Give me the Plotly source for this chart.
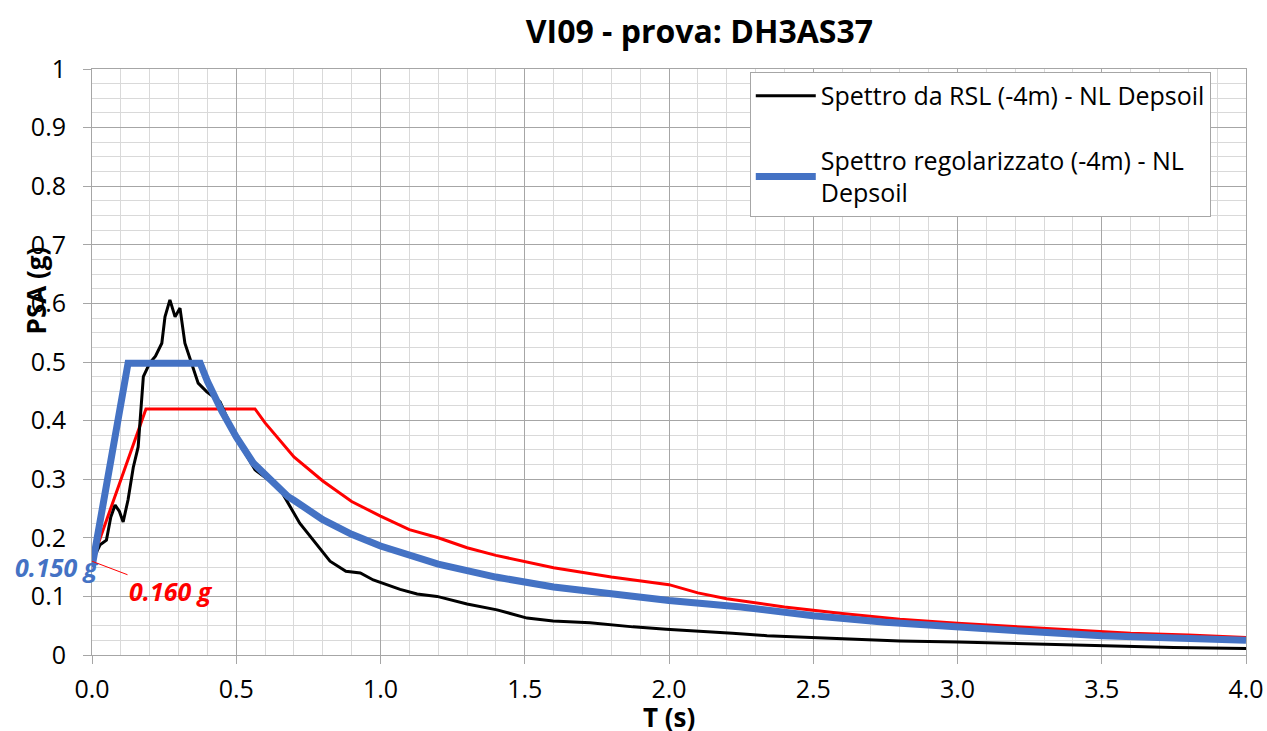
import plotly.graph_objects as go

# Spettro da RSL (-4m) - NL Depsoil
t_rsl = [0.0, 0.028, 0.05, 0.065, 0.08, 0.095, 0.108, 0.125, 0.143, 0.16, 0.178, 0.2,
         0.22, 0.242, 0.253, 0.27, 0.288, 0.305, 0.322, 0.346, 0.368, 0.398, 0.444, 0.5,
         0.565, 0.62, 0.66, 0.72, 0.76, 0.825, 0.88, 0.93, 0.975, 1.0, 1.068, 1.127,
         1.196, 1.3, 1.404, 1.508, 1.598, 1.726, 1.875, 1.99, 2.107, 2.22, 2.34, 2.454,
         2.57, 2.686, 2.8, 3.0, 3.25, 3.5, 3.75, 4.0]
psa_rsl = [0.16, 0.188, 0.196, 0.235, 0.256, 0.245, 0.227, 0.265, 0.32, 0.355, 0.475, 0.498,
           0.51, 0.532, 0.577, 0.606, 0.577, 0.592, 0.532, 0.498, 0.464, 0.449, 0.432, 0.37,
           0.316, 0.296, 0.276, 0.225, 0.2, 0.16, 0.143, 0.14, 0.128, 0.124, 0.112, 0.104,
           0.1, 0.087, 0.077, 0.063, 0.058, 0.055, 0.048, 0.044, 0.041, 0.037, 0.033, 0.031,
           0.029, 0.026, 0.024, 0.022, 0.019, 0.015, 0.013, 0.011]

# Spettro regolarizzato (-4m) - NL Depsoil
t_reg = [0.0, 0.125, 0.375, 0.4, 0.45, 0.5, 0.56, 0.6, 0.68, 0.7, 0.8, 0.9, 1.0, 1.2, 1.3,
         1.4, 1.6, 1.8, 2.0, 2.25, 2.5, 2.75, 3.0, 3.25, 3.5, 3.75, 4.0]
psa_reg = [0.15, 0.498, 0.498, 0.467, 0.416, 0.372, 0.327, 0.307, 0.27, 0.264, 0.231, 0.206,
           0.186, 0.155, 0.144, 0.133, 0.116, 0.103, 0.093, 0.082, 0.067, 0.056, 0.047,
           0.040, 0.033, 0.029, 0.025]

# spettro di norma (rosso)
t_ntc = [0.0, 0.187, 0.565, 0.6, 0.7, 0.8, 0.9, 1.0, 1.1, 1.2, 1.3, 1.4, 1.6, 1.8, 2.0,
         2.1, 2.2, 2.4, 2.6, 2.8, 3.0, 3.2, 3.4, 3.6, 3.8, 4.0]
psa_ntc = [0.16, 0.42, 0.42, 0.396, 0.338, 0.297, 0.262, 0.237, 0.214, 0.2, 0.183, 0.17,
           0.149, 0.133, 0.12, 0.106, 0.096, 0.082, 0.071, 0.061, 0.054, 0.048, 0.042,
           0.037, 0.034, 0.030]

BLUE = "#4472C4"
RED = "#FF0000"
FONT = "Open Sans"
MAJOR = "#a6a6a6"
MINOR = "#d9d9d9"

fig = go.Figure()
fig.add_trace(go.Scatter(
    x=t_ntc, y=psa_ntc, mode="lines", showlegend=False,
    line=dict(color=RED, width=3)
))
fig.add_trace(go.Scatter(
    x=t_rsl, y=psa_rsl, mode="lines", name="Spettro da RSL (-4m) - NL Depsoil",
    legendgroup="a", line=dict(color="black", width=3)
))
fig.add_trace(go.Scatter(
    x=t_reg, y=psa_reg, mode="lines", name="Spettro regolarizzato (-4m) - NL<br>Depsoil",
    legendgroup="b", line=dict(color=BLUE, width=7)
))

# etichette dei valori a T=0
fig.add_annotation(
    x=-0.0303, xref="paper", y=psa_reg[0], yref="y", xanchor="center", yanchor="middle",
    text="<b><i>0.150 g</i></b>", showarrow=False,
    font=dict(family=FONT, size=25, color=BLUE)
)
fig.add_annotation(
    x=t_ntc[0], y=psa_ntc[0], text="<b><i>0.160 g</i></b>",
    showarrow=True, arrowhead=0, arrowwidth=1, arrowcolor=RED,
    ax=79, ay=30, font=dict(family=FONT, size=25, color=RED)
)

# titoli assi
fig.add_annotation(
    x=-0.049, xref="paper", y=0.623, yref="paper", xanchor="center", yanchor="middle",
    textangle=-90, text="<b>PSA (g)</b>", showarrow=False,
    font=dict(family=FONT, size=26, color="black")
)
fig.add_annotation(
    x=0.5, xref="paper", y=-0.106, yref="paper", xanchor="center", yanchor="middle",
    text="<b>T (s)</b>", showarrow=False,
    font=dict(family=FONT, size=26, color="black")
)

fig.update_layout(
    width=1267, height=731,
    margin=dict(l=92, r=21, t=69, b=76, autoexpand=False),
    paper_bgcolor="white", plot_bgcolor="white",
    font=dict(family=FONT, size=25, color="black"),
    title=dict(
        text="<b>VI09 - prova: DH3AS37</b>", x=0.552, xanchor="center",
        y=0.956, yanchor="middle", font=dict(family=FONT, size=32, color="black")
    ),
    xaxis=dict(
        range=[0, 4], dtick=0.5, tickformat=".1f", automargin=False,
        showgrid=True, gridcolor=MAJOR, gridwidth=1,
        minor=dict(dtick=0.1, showgrid=True, gridcolor=MINOR, gridwidth=1),
        showline=True, linecolor=MAJOR, linewidth=1, mirror=True,
        ticks="outside", ticklen=8, tickcolor=MAJOR, ticklabelstandoff=4,
        zeroline=False, tickfont=dict(size=25)
    ),
    yaxis=dict(
        range=[0, 1], dtick=0.1, automargin=False,
        showgrid=True, gridcolor=MAJOR, gridwidth=1,
        minor=dict(dtick=0.025, showgrid=True, gridcolor=MINOR, gridwidth=1),
        showline=True, linecolor=MAJOR, linewidth=1, mirror=True,
        ticks="outside", ticklen=8, tickcolor=MAJOR, ticklabelstandoff=12,
        zeroline=False, tickfont=dict(size=25)
    ),
    legend=dict(
        x=0.570, y=0.995, xanchor="left", yanchor="top",
        bgcolor="white", bordercolor=MAJOR, borderwidth=1,
        font=dict(family=FONT, size=25, color="black"),
        traceorder="grouped", tracegroupgap=29, itemwidth=60
    ),
    showlegend=True
)

# niente margine della pagina, cosi' la figura occupa tutta la finestra
fig.write_html(
    "out.html",
    config={"displayModeBar": False},
    post_script="document.body.style.margin='0';document.body.style.overflow='hidden';"
)
